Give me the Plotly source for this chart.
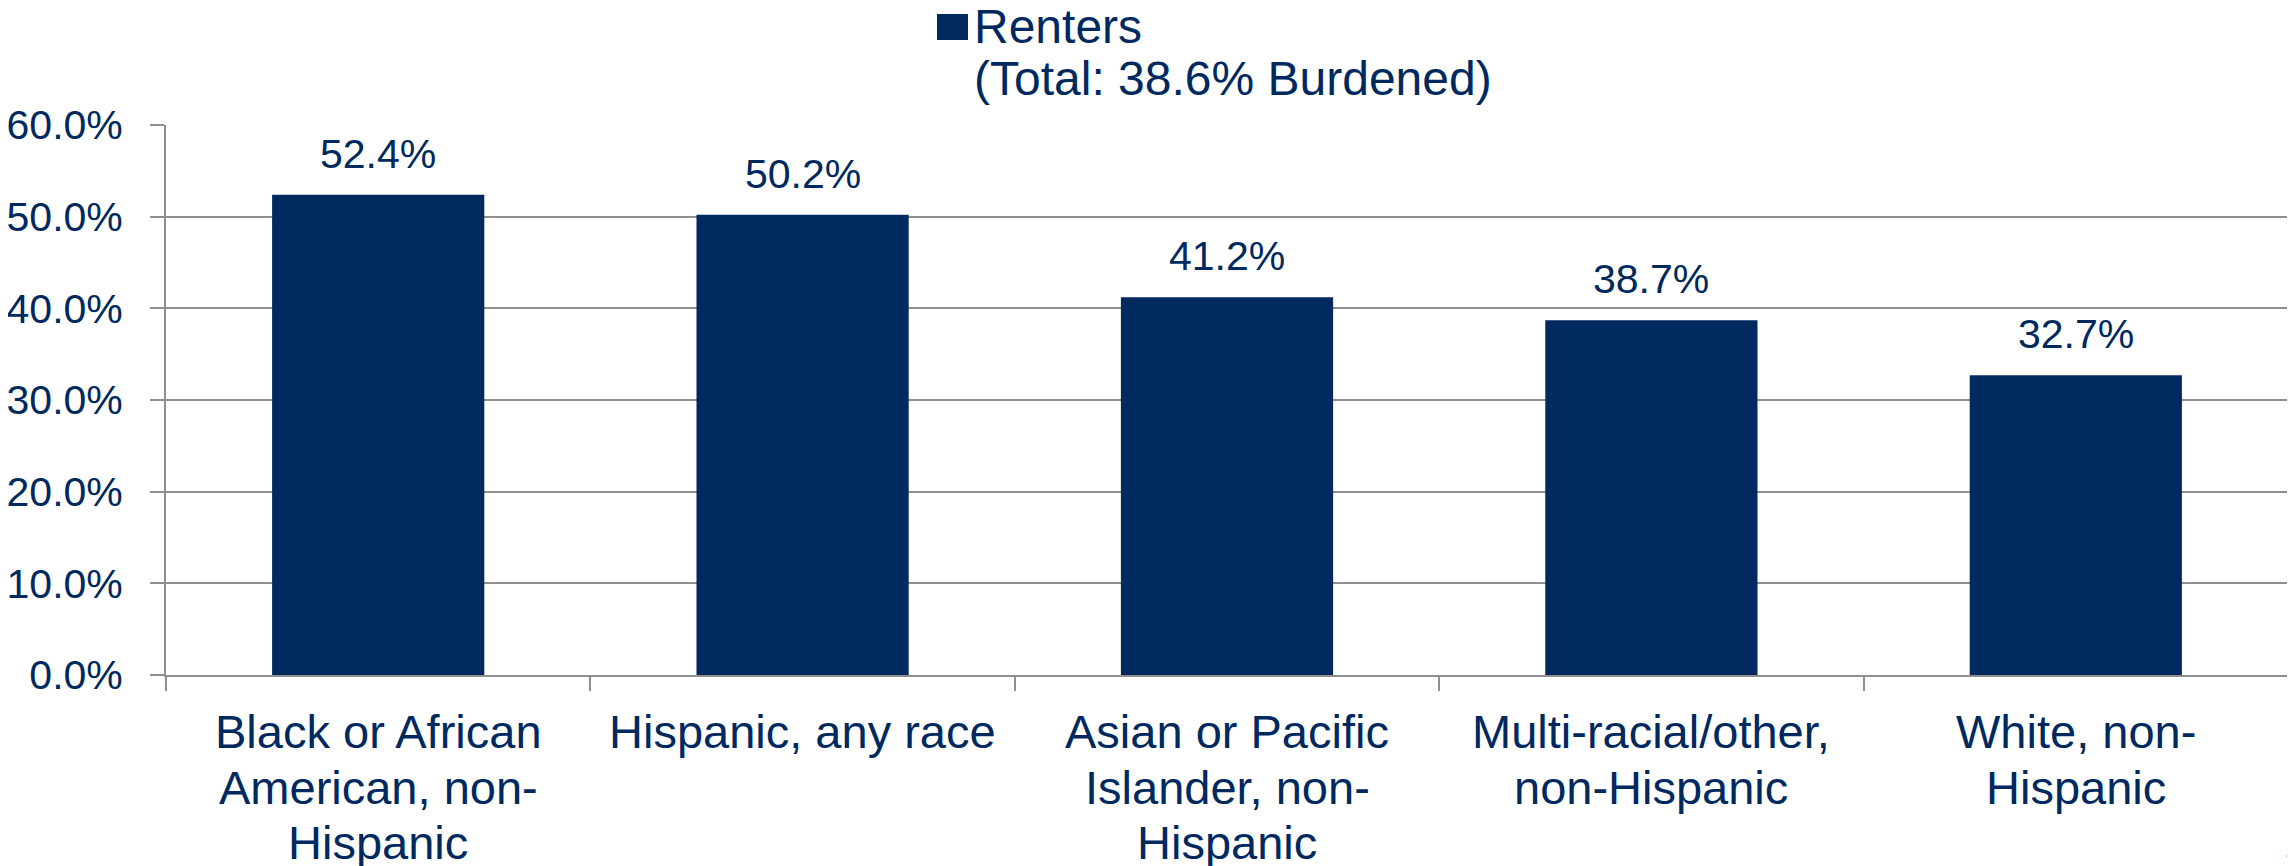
import plotly.graph_objects as go

categories = [
    "Black or African American, non-Hispanic",
    "Hispanic, any race",
    "Asian or Pacific Islander, non-Hispanic",
    "Multi-racial/other, non-Hispanic",
    "White, non-Hispanic",
]
category_label_lines = [
    ["Black or African", "American, non-", "Hispanic"],
    ["Hispanic, any race"],
    ["Asian or Pacific", "Islander, non-", "Hispanic"],
    ["Multi-racial/other,", "non-Hispanic"],
    ["White, non-", "Hispanic"],
]
values = [52.4, 50.2, 41.2, 38.7, 32.7]
value_labels = ["52.4%", "50.2%", "41.2%", "38.7%", "32.7%"]
y_ticks = [0, 10, 20, 30, 40, 50, 60]
y_tick_labels = ["0.0%", "10.0%", "20.0%", "30.0%", "40.0%", "50.0%", "60.0%"]
legend_line1 = "Renters"
legend_line2 = "(Total: 38.6% Burdened)"

# page is rendered with an 8px body margin; size the figure to fit the window
OFF = 8
W, H = 2295 - OFF, 866 - OFF
L, R, T, B = 158, 7, 117, 191
NAVY = "#002960"
GRID = "#8f8f8f"
REG = "Liberation Sans, Arial, sans-serif"

pw = W - L - R
ph = H - T - B
def px_x(p):  # page pixel -> paper x
    return (p - OFF - L) / pw
def px_y(p):  # page pixel -> paper y
    return (H - B - (p - OFF)) / ph

fig = go.Figure()
fig.add_trace(go.Bar(x=categories, y=values, marker=dict(color=NAVY, line=dict(width=0)),
                     width=0.5, showlegend=False, hoverinfo="skip"))

for c, v, t in zip(categories, values, value_labels):
    fig.add_annotation(x=c, y=v, text=t, showarrow=False, yanchor="bottom",
                       yshift=16, font=dict(family=REG, size=41, color=NAVY))

# category labels (one annotation per line for exact line spacing)
line_centers = [732, 787, 842]
for c, lines in zip(categories, category_label_lines):
    for ln, yc in zip(lines, line_centers):
        fig.add_annotation(x=c, xref="x", yref="paper", y=px_y(yc), text=ln,
                           showarrow=False, yanchor="middle", xanchor="center",
                           font=dict(family=REG, size=47, color=NAVY))

# legend swatch + text
fig.add_shape(type="rect", xref="paper", yref="paper",
              x0=px_x(937), x1=px_x(968), y0=px_y(40), y1=px_y(14),
              fillcolor=NAVY, line=dict(width=0))
fig.add_annotation(xref="paper", yref="paper", x=px_x(972), y=px_y(27),
                   xanchor="left", yanchor="middle", align="left", showarrow=False,
                   text=legend_line1, font=dict(family=REG, size=48, color=NAVY))
fig.add_annotation(xref="paper", yref="paper", x=px_x(972), y=px_y(79),
                   xanchor="left", yanchor="middle", align="left", showarrow=False,
                   text=legend_line2, font=dict(family=REG, size=48, color=NAVY))
# page number
fig.add_annotation(xref="paper", yref="paper", x=px_x(2283), y=px_y(846),
                   xanchor="left", yanchor="top", showarrow=False,
                   text="7", font=dict(family=REG, size=30, color="#2a64a0"))

fig.update_layout(
    width=W, height=H,
    margin=dict(l=L, r=R, t=T, b=B, pad=0, autoexpand=False),
    plot_bgcolor="white", paper_bgcolor="white",
    bargap=0.5,
    font=dict(family=REG, color=NAVY),
)
fig.update_xaxes(
    automargin=False,
    showline=True, linecolor=GRID, linewidth=2,
    ticks="outside", ticklen=14, tickwidth=2, tickcolor=GRID,
    tickson="boundaries", showgrid=False, showticklabels=False,
)
fig.update_yaxes(
    automargin=False,
    range=[0, 60], tickvals=y_ticks, ticktext=y_tick_labels,
    showline=True, linecolor=GRID, linewidth=2,
    showgrid=True, gridcolor=GRID, gridwidth=2,
    ticks="outside", ticklen=14, tickwidth=2, tickcolor=GRID,
    tickfont=dict(family=REG, size=41, color=NAVY),
    ticklabelstandoff=19, zeroline=False,
)

fig.write_html("out.html")
